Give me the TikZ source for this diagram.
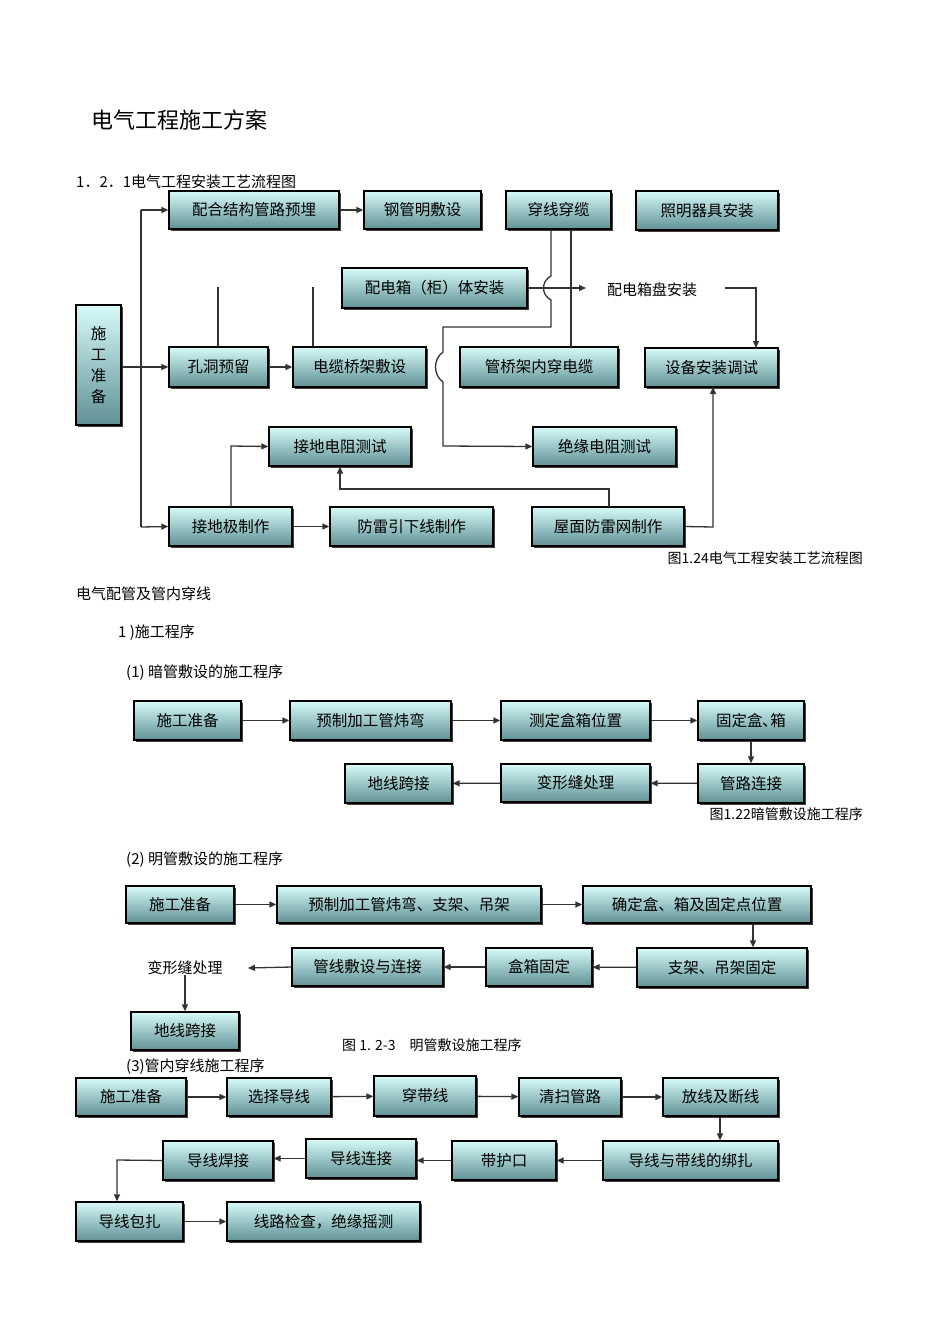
\documentclass[tikz,border=0pt]{standalone}
\usepackage{fontspec}
\setmainfont{Noto Sans CJK SC}
\usetikzlibrary{shadows,arrows.meta}
\tikzset{
 bx/.style={draw=black,line width=1.3pt,top color={rgb,255:red,215;green,250;blue,250},bottom color={rgb,255:red,95;green,145;blue,148},inner sep=0pt,align=center,font=\fontsize{15.5}{19}\selectfont,drop shadow={shadow xshift=1.5pt,shadow yshift=-1.5pt,fill=black!75,opacity=1}},
 ln/.style={draw=black!80,line width=1.3pt},
 ar/.style={ln,-{Triangle[length=7pt,width=6pt]}},
 txt/.style={inner sep=0pt,font=\fontsize{15}{18}\selectfont},
 captxt/.style={inner sep=0pt,font=\fontsize{14}{17}\selectfont}
}
\newcommand\bx[6]{\node[bx,minimum width={(#4-#2)*1pt},minimum height={(#5-#3)*1pt}] (#1) at ({(#2+#4)/2},{(#3+#5)/2}) {#6};}
\begin{document}
\begin{tikzpicture}[x=1pt,y=-1pt]
\useasboundingbox (0,0) rectangle (950,1344);
\node[anchor=west,inner sep=0pt,font=\fontsize{22}{26}\selectfont] (title) at (91,120) {电气工程施工方案};
\node[txt,anchor=west] (h1) at (76,182) {1．2．1电气工程安装工艺流程图};
% diagram 1
\bx{sg}{76}{305}{121}{425}{施\\[2pt]工\\[2pt]准\\[2pt]备}
\bx{pj}{169}{191}{339}{229}{配合结构管路预埋}
\bx{gg}{364}{191}{481}{229}{钢管明敷设}
\bx{cx}{506}{191}{611}{229}{穿线穿缆}
\bx{zm}{636}{191}{778}{230}{照明器具安装}
\bx{pd}{342}{268}{527}{308}{配电箱（柜）体安装}
\node[txt] (pdp) at (652,290) {配电箱盘安装};
\bx{kd}{169}{347}{268}{387}{孔洞预留}
\bx{dl}{293}{347}{426}{387}{电缆桥架敷设}
\bx{gq}{460}{347}{618}{387}{管桥架内穿电缆}
\bx{sb}{645}{348}{778}{387}{设备安装调试}
\bx{jd}{269}{427}{411}{466}{接地电阻测试}
\bx{jy}{533}{427}{676}{466}{绝缘电阻测试}
\bx{jdj}{169}{507}{292}{546}{接地极制作}
\bx{fl}{330}{507}{493}{546}{防雷引下线制作}
\bx{wm}{532}{507}{684}{546}{屋面防雷网制作}
\node[captxt,anchor=east] (c1) at (863,558) {图1.24电气工程安装工艺流程图};
\coordinate (t1) at (141,210);
\coordinate (t2) at (141,527);
\draw[ln] (t1) -- (t2);
\draw[ar] (t1) -- (pj.west);
\draw[ar] (sg.east |- kd.west) -- (kd.west);
\draw[ar] (t2) -- (jdj.west);
\draw[ar] (pj) -- (gg);
\draw[ar] (kd) -- (dl);
\draw[ar] (jdj) -- (fl);
\coordinate (v1) at (218,287); \draw[ln] (v1) -- (v1 |- kd.north);
\coordinate (v2) at (313,287); \draw[ln] (v2) -- (v2 |- dl.north);
\draw[ar] (cx.south -| 551,0) -- (551,276) .. controls (541,281) and (541,295) .. (551,300) -- (551,327) -- (443,327) -- (443,352) .. controls (433,359) and (433,375) .. (443,382) -- (443,446) -- (jy.west);
\draw[ln] (cx.south -| 571,0) -- (571,347);
\coordinate (pe) at (586,288);
\draw[ar] (pd.east) -- (pe);
\coordinate (q1) at (725,288);
\draw[ar] (q1) -- (756,288) -- (756,348);
\draw[ar] (wm.east) -- (713,527) -- (713,387);
\draw[ar] (609,507) -- (609,489) -- (340,489) -- (jd.south);
\draw[ar] (231,507) -- (231,446) -- (jd.west);
% section text
\node[txt,anchor=west] (s1) at (76,594) {电气配管及管内穿线};
\node[txt,anchor=west] (s2) at (118,633) {1 )施工程序};
\node[txt,anchor=west] (s3) at (126,673) {(1) 暗管敷设的施工程序};
% diagram 2
\bx{a1}{134}{701}{241}{740}{施工准备}
\bx{a2}{290}{701}{451}{740}{预制加工管炜弯}
\bx{a3}{501}{701}{650}{740}{测定盒箱位置}
\bx{a4}{698}{701}{804}{740}{固定盒､箱}
\bx{a5}{698}{764}{804}{803}{管路连接}
\bx{a6}{501}{764}{650}{802}{变形缝处理}
\bx{a7}{345}{764}{452}{803}{地线跨接}
\draw[ar] (a1)--(a2); \draw[ar] (a2)--(a3); \draw[ar] (a3)--(a4);
\draw[ar] (a4)--(a5); \draw[ar] (a5)--(a6); \draw[ar] (a6)--(a7);
\node[captxt,anchor=east] (c2) at (863,814) {图1.22暗管敷设施工程序};
\node[txt,anchor=west] (s4) at (126,860) {(2) 明管敷设的施工程序};
% diagram 3
\bx{b1}{126}{886}{234}{923}{施工准备}
\bx{b2}{277}{886}{541}{923}{预制加工管炜弯、支架、吊架}
\bx{b3}{583}{886}{811}{923}{确定盒、箱及固定点位置}
\bx{b4}{637}{948}{807}{987}{支架、吊架固定}
\bx{b5}{486}{948}{592}{986}{盒箱固定}
\bx{b6}{292}{948}{443}{986}{管线敷设与连接}
\node[txt] (b7) at (185,968) {变形缝处理};
\bx{b8}{131}{1012}{239}{1050}{地线跨接}
\draw[ar] (b1)--(b2); \draw[ar] (b2)--(b3);
\draw[ar] (b3.south -| 753,0)--(b4.north -| 753,0);
\draw[ar] (b4)--(b5); \draw[ar] (b5)--(b6); \draw[ar] (b6.west)--(248,968);
\draw[ar] (b7.south -| 185,0)--(b8.north -| 185,0);
\node[captxt,anchor=west] (c3) at (342,1045) {图 1. 2-3　明管敷设施工程序};
\node[txt,anchor=west] (s5) at (126,1067) {(3)管内穿线施工程序};
% diagram 4
\bx{c1b}{76}{1078}{186}{1116}{施工准备}
\bx{c2b}{227}{1078}{331}{1116}{选择导线}
\bx{c3b}{374}{1076}{476}{1116}{穿带线}
\bx{c4b}{519}{1078}{621}{1116}{清扫管路}
\bx{c5b}{663}{1078}{778}{1116}{放线及断线}
\bx{c6b}{603}{1141}{778}{1180}{导线与带线的绑扎}
\bx{c7b}{452}{1141}{556}{1180}{带护口}
\bx{c8b}{306}{1139}{416}{1178}{导线连接}
\bx{c9b}{163}{1141}{273}{1180}{导线焊接}
\bx{c10b}{76}{1202}{183}{1241}{导线包扎}
\bx{c11b}{227}{1202}{420}{1241}{线路检查，绝缘摇测}
\draw[ar] (c1b)--(c2b); \draw[ar] (c2b)--(c3b); \draw[ar] (c3b)--(c4b); \draw[ar] (c4b)--(c5b);
\draw[ar] (c5b.south -| 720,0)--(c6b.north -| 720,0);
\draw[ar] (c6b)--(c7b); \draw[ar] (c7b.west)--(c8b.east |- c7b.west);
\draw[ar] (c8b.west)--(c9b.east |- c8b.west);
\draw[ar] (c9b.west)--(117,1160)--(c10b.north -| 117,0);
\draw[ar] (c10b)--(c11b);
\end{tikzpicture}
\end{document}
